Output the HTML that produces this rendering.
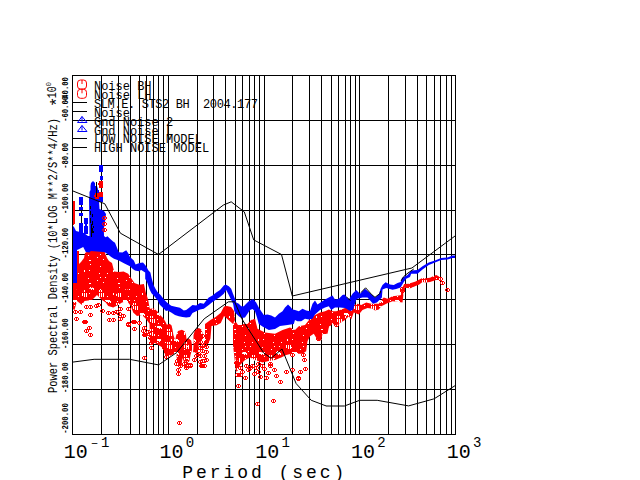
<!DOCTYPE html><html><head><meta charset="utf-8"><title>PSD</title><style>html,body{margin:0;padding:0;background:#fff;overflow:hidden}svg{display:block}</style></head><body>
<svg width="640" height="480" viewBox="0 0 640 480">
<rect width="640" height="480" fill="#fff"/>
<path d="M72 120.5H455M72 165.5H455M72 210.5H455M72 254.5H455M72 299.5H455M72 344.5H455M72 389.5H455M101.5 75V434M118.5 75V434M130.5 75V434M139.5 75V434M146.5 75V434M153.5 75V434M158.5 75V434M163.5 75V434M168.5 75V434M197.5 75V434M213.5 75V434M225.5 75V434M235.5 75V434M242.5 75V434M249.5 75V434M254.5 75V434M259.5 75V434M264.5 75V434M292.5 75V434M309.5 75V434M321.5 75V434M331.5 75V434M338.5 75V434M345.5 75V434M350.5 75V434M355.5 75V434M359.5 75V434M388.5 75V434M405.5 75V434M417.5 75V434M426.5 75V434M434.5 75V434M440.5 75V434M446.5 75V434M451.5 75V434" stroke="#000" stroke-width="1" fill="none" shape-rendering="crispEdges"/>
<rect x="72.5" y="75.5" width="383" height="359" stroke="#000" fill="none" shape-rendering="crispEdges"/>
<defs><clipPath id="pc"><rect x="73" y="76" width="382" height="358"/></clipPath><pattern id="spA" width="29" height="23" patternUnits="userSpaceOnUse"><path d="M10 4h1v1h-1zM12 20h1v1h-1zM1 2h1v1h-1zM26 17h1v1h-1zM3 11h1v1h-1zM18 1h1v1h-1zM16 6h1v1h-1zM1 2h1v1h-1zM13 13h1v1h-1zM2 7h1v1h-1zM2 17h1v1h-1zM13 1h1v1h-1zM26 18h1v1h-1zM3 7h1v1h-1zM20 20h1v1h-1zM18 1h1v1h-1z" fill="#fff" shape-rendering="crispEdges"/></pattern><pattern id="spB" width="17" height="13" patternUnits="userSpaceOnUse"><path d="M14 8h1v2h-1zM16 8h1v2h-1zM14 7h1v2h-1zM16 7h1v2h-1zM16 9h1v2h-1zM1 9h1v2h-1zM6 2h1v2h-1zM8 2h1v2h-1zM16 7h1v2h-1zM1 7h1v2h-1zM5 1h1v2h-1zM7 1h1v2h-1zM14 4h1v2h-1zM16 4h1v2h-1zM4 1h1v2h-1zM6 1h1v2h-1z" fill="#fff" shape-rendering="crispEdges"/></pattern></defs>
<g clip-path="url(#pc)">
<g fill="#ff0000">
<polygon points="72.0,283.0 77.0,283.0 77.0,251.0 79.0,251.0 79.0,264.0 81.0,262.0 84.0,258.0 85.0,253.0 90.0,250.0 102.0,251.0 104.5,250.0 105.0,253.0 107.0,258.0 109.0,261.0 112.0,263.0 114.2,271.4 118.9,272.0 123.6,271.4 128.2,273.8 131.4,278.4 134.5,283.0 139.2,284.7 143.9,284.0 145.8,292.5 148.2,300.0 149.5,307.5 150.0,308.8 150.0,340.0 149.5,323.8 145.8,318.8 142.0,315.0 137.0,316.0 133.2,312.5 130.8,306.0 127.0,301.0 122.0,302.5 118.2,305.0 113.2,307.5 108.2,306.0 105.8,302.5 102.0,300.0 97.0,295.0 92.0,300.0 84.5,301.0 82.0,305.0 77.0,301.0 74.5,310.0 72.0,308.8"/>
<polygon points="150.0,308.8 153.8,308.3 157.5,311.6 160.3,315.3 163.1,318.1 165.0,321.0 166.9,324.7 169.7,323.8 171.6,325.6 172.5,329.4 173.4,335.0 175.3,340.6 176.0,336.0 178.0,331.0 181.9,329.8 184.7,331.2 186.0,335.0 186.5,339.0 188.4,338.3 191.2,340.6 192.0,345.0 192.0,350.0 190.5,355.0 189.4,361.2 186.0,361.2 184.0,362.0 182.5,358.0 181.5,366.0 179.0,366.0 177.0,360.0 176.2,352.8 172.5,354.7 168.8,356.5 166.0,357.5 163.0,348.0 160.0,346.0 155.0,343.0 150.0,340.0"/>
<polygon points="193.5,335.0 195.0,330.0 198.8,328.0 201.5,329.4 202.5,333.0 202.0,340.0 199.0,343.0 197.8,352.8 193.0,352.8 193.5,345.0"/>
<polygon points="205.0,324.0 210.4,320.0 215.6,317.0 220.8,312.7 224.0,306.5 227.0,306.0 231.2,307.0 234.0,311.0 235.0,320.0 233.0,324.0 224.0,316.0 220.8,323.0 216.7,325.2 211.5,326.0 210.4,338.8 208.0,344.0 205.0,344.0"/>
<polygon points="233.0,324.0 236.0,322.0 238.0,325.0 241.7,325.0 243.8,324.0 247.5,324.0 251.0,320.0 255.0,318.8 257.5,328.8 265.0,332.5 275.0,333.8 282.5,330.0 290.0,327.5 295.0,330.0 298.8,326.2 305.0,325.0 310.0,318.8 315.0,315.0 320.0,312.5 325.0,311.2 328.8,309.4 332.5,311.2 336.2,311.2 340.0,310.0 345.0,308.0 348.8,307.5 353.8,305.0 357.5,303.8 361.2,305.0 366.2,302.5 371.2,303.8 378.8,303.8 382.5,298.8 383.8,297.5 387.5,298.8 392.5,296.2 398.8,295.6 401.0,295.0 401.2,290.0 404.2,284.0 408.3,283.8 412.5,282.5 415.6,281.5 419.3,279.4 422.4,278.0 426.0,278.3 430.0,277.8 432.5,276.5 436.2,275.0 439.0,276.5 439.0,280.0 436.0,280.0 430.0,282.0 426.0,282.5 422.4,282.0 419.3,284.6 415.6,286.1 410.4,288.2 404.2,287.7 402.5,302.5 398.8,301.9 392.5,301.2 386.2,303.8 384.0,305.0 381.2,306.2 378.8,309.4 375.0,310.6 372.5,308.8 367.5,308.0 362.5,310.0 358.8,314.4 353.8,312.5 351.2,319.4 348.8,316.2 345.0,320.0 338.8,323.8 336.2,325.6 332.5,323.8 328.8,327.5 327.5,333.8 322.5,333.8 321.2,340.6 317.5,340.0 313.8,333.8 310.0,336.2 307.5,341.2 306.2,351.2 302.5,353.8 298.8,353.8 291.2,353.8 286.2,355.0 281.2,357.5 275.0,360.0 268.8,361.0 262.5,362.5 255.0,360.0 250.0,357.5 245.0,360.0 240.0,365.0 237.0,372.0 235.6,370.0 234.4,357.5 233.0,345.0"/>
</g>
<g fill="url(#spA)">
<polygon points="72.0,283.0 77.0,283.0 77.0,251.0 79.0,251.0 79.0,264.0 81.0,262.0 84.0,258.0 85.0,253.0 90.0,250.0 102.0,251.0 104.5,250.0 105.0,253.0 107.0,258.0 109.0,261.0 112.0,263.0 114.2,271.4 118.9,272.0 123.6,271.4 128.2,273.8 131.4,278.4 134.5,283.0 139.2,284.7 143.9,284.0 145.8,292.5 148.2,300.0 149.5,307.5 150.0,308.8 150.0,340.0 149.5,323.8 145.8,318.8 142.0,315.0 137.0,316.0 133.2,312.5 130.8,306.0 127.0,301.0 122.0,302.5 118.2,305.0 113.2,307.5 108.2,306.0 105.8,302.5 102.0,300.0 97.0,295.0 92.0,300.0 84.5,301.0 82.0,305.0 77.0,301.0 74.5,310.0 72.0,308.8"/>
<polygon points="150.0,308.8 153.8,308.3 157.5,311.6 160.3,315.3 163.1,318.1 165.0,321.0 166.9,324.7 169.7,323.8 171.6,325.6 172.5,329.4 173.4,335.0 175.3,340.6 176.0,336.0 178.0,331.0 181.9,329.8 184.7,331.2 186.0,335.0 186.5,339.0 188.4,338.3 191.2,340.6 192.0,345.0 192.0,350.0 190.5,355.0 189.4,361.2 186.0,361.2 184.0,362.0 182.5,358.0 181.5,366.0 179.0,366.0 177.0,360.0 176.2,352.8 172.5,354.7 168.8,356.5 166.0,357.5 163.0,348.0 160.0,346.0 155.0,343.0 150.0,340.0"/>
<polygon points="193.5,335.0 195.0,330.0 198.8,328.0 201.5,329.4 202.5,333.0 202.0,340.0 199.0,343.0 197.8,352.8 193.0,352.8 193.5,345.0"/>
<polygon points="205.0,324.0 210.4,320.0 215.6,317.0 220.8,312.7 224.0,306.5 227.0,306.0 231.2,307.0 234.0,311.0 235.0,320.0 233.0,324.0 224.0,316.0 220.8,323.0 216.7,325.2 211.5,326.0 210.4,338.8 208.0,344.0 205.0,344.0"/>
<polygon points="233.0,324.0 236.0,322.0 238.0,325.0 241.7,325.0 243.8,324.0 247.5,324.0 251.0,320.0 255.0,318.8 257.5,328.8 265.0,332.5 275.0,333.8 282.5,330.0 290.0,327.5 295.0,330.0 298.8,326.2 305.0,325.0 310.0,318.8 315.0,315.0 320.0,312.5 325.0,311.2 328.8,309.4 332.5,311.2 336.2,311.2 340.0,310.0 345.0,308.0 348.8,307.5 353.8,305.0 357.5,303.8 361.2,305.0 366.2,302.5 371.2,303.8 378.8,303.8 382.5,298.8 383.8,297.5 387.5,298.8 392.5,296.2 398.8,295.6 401.0,295.0 401.2,290.0 404.2,284.0 408.3,283.8 412.5,282.5 415.6,281.5 419.3,279.4 422.4,278.0 426.0,278.3 430.0,277.8 432.5,276.5 436.2,275.0 439.0,276.5 439.0,280.0 436.0,280.0 430.0,282.0 426.0,282.5 422.4,282.0 419.3,284.6 415.6,286.1 410.4,288.2 404.2,287.7 402.5,302.5 398.8,301.9 392.5,301.2 386.2,303.8 384.0,305.0 381.2,306.2 378.8,309.4 375.0,310.6 372.5,308.8 367.5,308.0 362.5,310.0 358.8,314.4 353.8,312.5 351.2,319.4 348.8,316.2 345.0,320.0 338.8,323.8 336.2,325.6 332.5,323.8 328.8,327.5 327.5,333.8 322.5,333.8 321.2,340.6 317.5,340.0 313.8,333.8 310.0,336.2 307.5,341.2 306.2,351.2 302.5,353.8 298.8,353.8 291.2,353.8 286.2,355.0 281.2,357.5 275.0,360.0 268.8,361.0 262.5,362.5 255.0,360.0 250.0,357.5 245.0,360.0 240.0,365.0 237.0,372.0 235.6,370.0 234.4,357.5 233.0,345.0"/>
</g>
<g fill="url(#spB)">
<polygon points="72.0,296.8 74.5,298.0 77.0,289.0 82.0,293.0 84.5,289.0 92.0,288.0 97.0,283.0 102.0,288.0 105.8,290.5 108.2,294.0 113.2,295.5 118.2,293.0 122.0,290.5 127.0,289.0 130.8,294.0 133.2,300.5 137.0,304.0 142.0,303.0 145.8,306.8 149.5,311.8 149.5,324.8 145.8,319.8 142.0,316.0 137.0,317.0 133.2,313.5 130.8,307.0 127.0,302.0 122.0,303.5 118.2,306.0 113.2,308.5 108.2,307.0 105.8,303.5 102.0,301.0 97.0,296.0 92.0,301.0 84.5,302.0 82.0,306.0 77.0,302.0 74.5,311.0 72.0,309.8"/>
<polygon points="233.0,335.0 234.4,347.5 235.6,360.0 237.0,362.0 240.0,355.0 245.0,350.0 250.0,347.5 255.0,350.0 262.5,352.5 268.8,351.0 275.0,350.0 281.2,347.5 286.2,345.0 291.2,343.8 298.8,343.8 302.5,343.8 302.5,354.8 298.8,354.8 291.2,354.8 286.2,356.0 281.2,358.5 275.0,361.0 268.8,362.0 262.5,363.5 255.0,361.0 250.0,358.5 245.0,361.0 240.0,366.0 237.0,373.0 235.6,371.0 234.4,358.5 233.0,346.0"/>
<polygon points="150.0,308.8 153.8,308.3 157.5,311.6 160.3,315.3 163.1,318.1 165.0,321.0 166.9,324.7 169.7,323.8 171.6,325.6 172.5,329.4 173.4,335.0 175.3,340.6 176.0,336.0 178.0,331.0 181.9,329.8 184.7,331.2 186.0,335.0 186.5,339.0 188.4,338.3 191.2,340.6 192.0,345.0 192.0,350.0 190.5,355.0 189.4,361.2 186.0,361.2 184.0,362.0 182.5,358.0 181.5,366.0 179.0,366.0 177.0,360.0 176.2,352.8 172.5,354.7 168.8,356.5 166.0,357.5 163.0,348.0 160.0,346.0 155.0,343.0 150.0,340.0"/>
<polygon points="193.5,335.0 195.0,330.0 198.8,328.0 201.5,329.4 202.5,333.0 202.0,340.0 199.0,343.0 197.8,352.8 193.0,352.8 193.5,345.0"/>
<polygon points="332.5,311.2 336.2,311.2 340.0,310.0 345.0,308.0 348.8,307.5 353.8,305.0 357.5,303.8 361.2,305.0 366.2,302.5 371.2,303.8 378.8,303.8 382.5,298.8 383.8,297.5 387.5,298.8 392.5,296.2 398.8,295.6 401.0,295.0 401.2,290.0 404.2,284.0 408.3,283.8 412.5,282.5 415.6,281.5 419.3,279.4 422.4,278.0 426.0,278.3 430.0,277.8 432.5,276.5 436.2,275.0 439.0,276.5 439.0,280.0 436.0,280.0 430.0,282.0 426.0,282.5 422.4,282.0 419.3,284.6 415.6,286.1 410.4,288.2 404.2,287.7 402.5,302.5 398.8,301.9 392.5,301.2 386.2,303.8 384.0,305.0 381.2,306.2 378.8,309.4 375.0,310.6 372.5,308.8 367.5,308.0 362.5,310.0 358.8,314.4 353.8,312.5 351.2,319.4 348.8,316.2 345.0,320.0 338.8,323.8 336.2,325.6 332.5,323.8"/>
</g>
<path d="M74 310h3v1h-3zM74 313h3v1h-3zM73 311h1v2h-1zM75 311h1v2h-1zM77 311h1v2h-1z" fill="#ff0000" shape-rendering="crispEdges"/>
<path d="M75 317h3v1h-3zM75 320h3v1h-3zM74 318h1v2h-1zM76 318h1v2h-1zM78 318h1v2h-1z" fill="#ff0000" shape-rendering="crispEdges"/>
<path d="M85 305h3v1h-3zM85 308h3v1h-3zM84 306h1v2h-1zM86 306h1v2h-1zM88 306h1v2h-1z" fill="#ff0000" shape-rendering="crispEdges"/>
<path d="M89 305h3v1h-3zM89 308h3v1h-3zM88 306h1v2h-1zM90 306h1v2h-1zM92 306h1v2h-1z" fill="#ff0000" shape-rendering="crispEdges"/>
<path d="M89 313h3v1h-3zM89 316h3v1h-3zM88 314h1v2h-1zM90 314h1v2h-1zM92 314h1v2h-1z" fill="#ff0000" shape-rendering="crispEdges"/>
<path d="M83 320h3v1h-3zM83 323h3v1h-3zM82 321h1v2h-1zM84 321h1v2h-1zM86 321h1v2h-1z" fill="#ff0000" shape-rendering="crispEdges"/>
<path d="M88 326h3v1h-3zM88 329h3v1h-3zM87 327h1v2h-1zM89 327h1v2h-1zM91 327h1v2h-1z" fill="#ff0000" shape-rendering="crispEdges"/>
<path d="M85 329h3v1h-3zM85 332h3v1h-3zM84 330h1v2h-1zM86 330h1v2h-1zM88 330h1v2h-1z" fill="#ff0000" shape-rendering="crispEdges"/>
<path d="M89 333h3v1h-3zM89 336h3v1h-3zM88 334h1v2h-1zM90 334h1v2h-1zM92 334h1v2h-1z" fill="#ff0000" shape-rendering="crispEdges"/>
<path d="M101 309h3v1h-3zM101 312h3v1h-3zM100 310h1v2h-1zM102 310h1v2h-1zM104 310h1v2h-1z" fill="#ff0000" shape-rendering="crispEdges"/>
<path d="M107 311h3v1h-3zM107 314h3v1h-3zM106 312h1v2h-1zM108 312h1v2h-1zM110 312h1v2h-1z" fill="#ff0000" shape-rendering="crispEdges"/>
<path d="M112 311h3v1h-3zM112 314h3v1h-3zM111 312h1v2h-1zM113 312h1v2h-1zM115 312h1v2h-1z" fill="#ff0000" shape-rendering="crispEdges"/>
<path d="M115 310h3v1h-3zM115 313h3v1h-3zM114 311h1v2h-1zM116 311h1v2h-1zM118 311h1v2h-1z" fill="#ff0000" shape-rendering="crispEdges"/>
<path d="M108 318h3v1h-3zM108 321h3v1h-3zM107 319h1v2h-1zM109 319h1v2h-1zM111 319h1v2h-1z" fill="#ff0000" shape-rendering="crispEdges"/>
<path d="M112 318h3v1h-3zM112 321h3v1h-3zM111 319h1v2h-1zM113 319h1v2h-1zM115 319h1v2h-1z" fill="#ff0000" shape-rendering="crispEdges"/>
<path d="M119 307h3v1h-3zM119 310h3v1h-3zM118 308h1v2h-1zM120 308h1v2h-1zM122 308h1v2h-1z" fill="#ff0000" shape-rendering="crispEdges"/>
<path d="M118 312h3v1h-3zM118 315h3v1h-3zM117 313h1v2h-1zM119 313h1v2h-1zM121 313h1v2h-1z" fill="#ff0000" shape-rendering="crispEdges"/>
<path d="M122 314h3v1h-3zM122 317h3v1h-3zM121 315h1v2h-1zM123 315h1v2h-1zM125 315h1v2h-1z" fill="#ff0000" shape-rendering="crispEdges"/>
<path d="M119 317h3v1h-3zM119 320h3v1h-3zM118 318h1v2h-1zM120 318h1v2h-1zM122 318h1v2h-1z" fill="#ff0000" shape-rendering="crispEdges"/>
<path d="M127 307h3v1h-3zM127 310h3v1h-3zM126 308h1v2h-1zM128 308h1v2h-1zM130 308h1v2h-1z" fill="#ff0000" shape-rendering="crispEdges"/>
<path d="M127 322h3v1h-3zM127 325h3v1h-3zM126 323h1v2h-1zM128 323h1v2h-1zM130 323h1v2h-1z" fill="#ff0000" shape-rendering="crispEdges"/>
<path d="M132 320h3v1h-3zM132 323h3v1h-3zM131 321h1v2h-1zM133 321h1v2h-1zM135 321h1v2h-1z" fill="#ff0000" shape-rendering="crispEdges"/>
<path d="M138 321h3v1h-3zM138 324h3v1h-3zM137 322h1v2h-1zM139 322h1v2h-1zM141 322h1v2h-1z" fill="#ff0000" shape-rendering="crispEdges"/>
<path d="M133 327h3v1h-3zM133 330h3v1h-3zM132 328h1v2h-1zM134 328h1v2h-1zM136 328h1v2h-1z" fill="#ff0000" shape-rendering="crispEdges"/>
<path d="M143 326h3v1h-3zM143 329h3v1h-3zM142 327h1v2h-1zM144 327h1v2h-1zM146 327h1v2h-1z" fill="#ff0000" shape-rendering="crispEdges"/>
<path d="M142 329h3v1h-3zM142 332h3v1h-3zM141 330h1v2h-1zM143 330h1v2h-1zM145 330h1v2h-1z" fill="#ff0000" shape-rendering="crispEdges"/>
<path d="M144 333h3v1h-3zM144 336h3v1h-3zM143 334h1v2h-1zM145 334h1v2h-1zM147 334h1v2h-1z" fill="#ff0000" shape-rendering="crispEdges"/>
<path d="M148 332h3v1h-3zM148 335h3v1h-3zM147 333h1v2h-1zM149 333h1v2h-1zM151 333h1v2h-1z" fill="#ff0000" shape-rendering="crispEdges"/>
<path d="M149 336h3v1h-3zM149 339h3v1h-3zM148 337h1v2h-1zM150 337h1v2h-1zM152 337h1v2h-1z" fill="#ff0000" shape-rendering="crispEdges"/>
<path d="M150 337h3v1h-3zM150 340h3v1h-3zM149 338h1v2h-1zM151 338h1v2h-1zM153 338h1v2h-1z" fill="#ff0000" shape-rendering="crispEdges"/>
<path d="M150 341h3v1h-3zM150 344h3v1h-3zM149 342h1v2h-1zM151 342h1v2h-1zM153 342h1v2h-1z" fill="#ff0000" shape-rendering="crispEdges"/>
<path d="M150 346h3v1h-3zM150 349h3v1h-3zM149 347h1v2h-1zM151 347h1v2h-1zM153 347h1v2h-1z" fill="#ff0000" shape-rendering="crispEdges"/>
<path d="M143 356h3v1h-3zM143 359h3v1h-3zM142 357h1v2h-1zM144 357h1v2h-1zM146 357h1v2h-1z" fill="#ff0000" shape-rendering="crispEdges"/>
<path d="M155 330h3v1h-3zM155 333h3v1h-3zM154 331h1v2h-1zM156 331h1v2h-1zM158 331h1v2h-1z" fill="#ff0000" shape-rendering="crispEdges"/>
<path d="M163 346h3v1h-3zM163 349h3v1h-3zM162 347h1v2h-1zM164 347h1v2h-1zM166 347h1v2h-1z" fill="#ff0000" shape-rendering="crispEdges"/>
<path d="M165 350h3v1h-3zM165 353h3v1h-3zM164 351h1v2h-1zM166 351h1v2h-1zM168 351h1v2h-1z" fill="#ff0000" shape-rendering="crispEdges"/>
<path d="M165 355h3v1h-3zM165 358h3v1h-3zM164 356h1v2h-1zM166 356h1v2h-1zM168 356h1v2h-1z" fill="#ff0000" shape-rendering="crispEdges"/>
<path d="M169 349h3v1h-3zM169 352h3v1h-3zM168 350h1v2h-1zM170 350h1v2h-1zM172 350h1v2h-1z" fill="#ff0000" shape-rendering="crispEdges"/>
<path d="M161 334h3v1h-3zM161 337h3v1h-3zM160 335h1v2h-1zM162 335h1v2h-1zM164 335h1v2h-1z" fill="#ff0000" shape-rendering="crispEdges"/>
<path d="M162 339h3v1h-3zM162 342h3v1h-3zM161 340h1v2h-1zM163 340h1v2h-1zM165 340h1v2h-1z" fill="#ff0000" shape-rendering="crispEdges"/>
<path d="M154 330h3v1h-3zM154 333h3v1h-3zM153 331h1v2h-1zM155 331h1v2h-1zM157 331h1v2h-1z" fill="#ff0000" shape-rendering="crispEdges"/>
<path d="M147 330h3v1h-3zM147 333h3v1h-3zM146 331h1v2h-1zM148 331h1v2h-1zM150 331h1v2h-1z" fill="#ff0000" shape-rendering="crispEdges"/>
<path d="M151 340h3v1h-3zM151 343h3v1h-3zM150 341h1v2h-1zM152 341h1v2h-1zM154 341h1v2h-1z" fill="#ff0000" shape-rendering="crispEdges"/>
<path d="M143 333h3v1h-3zM143 336h3v1h-3zM142 334h1v2h-1zM144 334h1v2h-1zM146 334h1v2h-1z" fill="#ff0000" shape-rendering="crispEdges"/>
<path d="M127 323h3v1h-3zM127 326h3v1h-3zM126 324h1v2h-1zM128 324h1v2h-1zM130 324h1v2h-1z" fill="#ff0000" shape-rendering="crispEdges"/>
<path d="M133 320h3v1h-3zM133 323h3v1h-3zM132 321h1v2h-1zM134 321h1v2h-1zM136 321h1v2h-1z" fill="#ff0000" shape-rendering="crispEdges"/>
<path d="M133 327h3v1h-3zM133 330h3v1h-3zM132 328h1v2h-1zM134 328h1v2h-1zM136 328h1v2h-1z" fill="#ff0000" shape-rendering="crispEdges"/>
<path d="M84 320h3v1h-3zM84 323h3v1h-3zM83 321h1v2h-1zM85 321h1v2h-1zM87 321h1v2h-1z" fill="#ff0000" shape-rendering="crispEdges"/>
<path d="M79 310h3v1h-3zM79 313h3v1h-3zM78 311h1v2h-1zM80 311h1v2h-1zM82 311h1v2h-1z" fill="#ff0000" shape-rendering="crispEdges"/>
<path d="M95 304h3v1h-3zM95 307h3v1h-3zM94 305h1v2h-1zM96 305h1v2h-1zM98 305h1v2h-1z" fill="#ff0000" shape-rendering="crispEdges"/>
<path d="M97 303h3v1h-3zM97 306h3v1h-3zM96 304h1v2h-1zM98 304h1v2h-1zM100 304h1v2h-1z" fill="#ff0000" shape-rendering="crispEdges"/>
<path d="M177 372h3v1h-3zM177 375h3v1h-3zM176 373h1v2h-1zM178 373h1v2h-1zM180 373h1v2h-1z" fill="#ff0000" shape-rendering="crispEdges"/>
<path d="M177 368h3v1h-3zM177 371h3v1h-3zM176 369h1v2h-1zM178 369h1v2h-1zM180 369h1v2h-1z" fill="#ff0000" shape-rendering="crispEdges"/>
<path d="M179 364h3v1h-3zM179 367h3v1h-3zM178 365h1v2h-1zM180 365h1v2h-1zM182 365h1v2h-1z" fill="#ff0000" shape-rendering="crispEdges"/>
<path d="M175 362h3v1h-3zM175 365h3v1h-3zM174 363h1v2h-1zM176 363h1v2h-1zM178 363h1v2h-1z" fill="#ff0000" shape-rendering="crispEdges"/>
<path d="M183 362h3v1h-3zM183 365h3v1h-3zM182 363h1v2h-1zM184 363h1v2h-1zM186 363h1v2h-1z" fill="#ff0000" shape-rendering="crispEdges"/>
<path d="M187 363h3v1h-3zM187 366h3v1h-3zM186 364h1v2h-1zM188 364h1v2h-1zM190 364h1v2h-1z" fill="#ff0000" shape-rendering="crispEdges"/>
<path d="M189 364h3v1h-3zM189 367h3v1h-3zM188 365h1v2h-1zM190 365h1v2h-1zM192 365h1v2h-1z" fill="#ff0000" shape-rendering="crispEdges"/>
<path d="M185 366h3v1h-3zM185 369h3v1h-3zM184 367h1v2h-1zM186 367h1v2h-1zM188 367h1v2h-1z" fill="#ff0000" shape-rendering="crispEdges"/>
<path d="M195 354h3v1h-3zM195 357h3v1h-3zM194 355h1v2h-1zM196 355h1v2h-1zM198 355h1v2h-1z" fill="#ff0000" shape-rendering="crispEdges"/>
<path d="M193 358h3v1h-3zM193 361h3v1h-3zM192 359h1v2h-1zM194 359h1v2h-1zM196 359h1v2h-1z" fill="#ff0000" shape-rendering="crispEdges"/>
<path d="M195 347h3v1h-3zM195 350h3v1h-3zM194 348h1v2h-1zM196 348h1v2h-1zM198 348h1v2h-1z" fill="#ff0000" shape-rendering="crispEdges"/>
<path d="M199 336h3v1h-3zM199 339h3v1h-3zM198 337h1v2h-1zM200 337h1v2h-1zM202 337h1v2h-1z" fill="#ff0000" shape-rendering="crispEdges"/>
<path d="M201 334h3v1h-3zM201 337h3v1h-3zM200 335h1v2h-1zM202 335h1v2h-1zM204 335h1v2h-1z" fill="#ff0000" shape-rendering="crispEdges"/>
<path d="M199 340h3v1h-3zM199 343h3v1h-3zM198 341h1v2h-1zM200 341h1v2h-1zM202 341h1v2h-1z" fill="#ff0000" shape-rendering="crispEdges"/>
<path d="M203 343h3v1h-3zM203 346h3v1h-3zM202 344h1v2h-1zM204 344h1v2h-1zM206 344h1v2h-1z" fill="#ff0000" shape-rendering="crispEdges"/>
<path d="M199 346h3v1h-3zM199 349h3v1h-3zM198 347h1v2h-1zM200 347h1v2h-1zM202 347h1v2h-1z" fill="#ff0000" shape-rendering="crispEdges"/>
<path d="M201 349h3v1h-3zM201 352h3v1h-3zM200 350h1v2h-1zM202 350h1v2h-1zM204 350h1v2h-1z" fill="#ff0000" shape-rendering="crispEdges"/>
<path d="M203 354h3v1h-3zM203 357h3v1h-3zM202 355h1v2h-1zM204 355h1v2h-1zM206 355h1v2h-1z" fill="#ff0000" shape-rendering="crispEdges"/>
<path d="M199 354h3v1h-3zM199 357h3v1h-3zM198 355h1v2h-1zM200 355h1v2h-1zM202 355h1v2h-1z" fill="#ff0000" shape-rendering="crispEdges"/>
<path d="M203 359h3v1h-3zM203 362h3v1h-3zM202 360h1v2h-1zM204 360h1v2h-1zM206 360h1v2h-1z" fill="#ff0000" shape-rendering="crispEdges"/>
<path d="M199 360h3v1h-3zM199 363h3v1h-3zM198 361h1v2h-1zM200 361h1v2h-1zM202 361h1v2h-1z" fill="#ff0000" shape-rendering="crispEdges"/>
<path d="M203 364h3v1h-3zM203 367h3v1h-3zM202 365h1v2h-1zM204 365h1v2h-1zM206 365h1v2h-1z" fill="#ff0000" shape-rendering="crispEdges"/>
<path d="M201 364h3v1h-3zM201 367h3v1h-3zM200 365h1v2h-1zM202 365h1v2h-1zM204 365h1v2h-1z" fill="#ff0000" shape-rendering="crispEdges"/>
<path d="M205 350h3v1h-3zM205 353h3v1h-3zM204 351h1v2h-1zM206 351h1v2h-1zM208 351h1v2h-1z" fill="#ff0000" shape-rendering="crispEdges"/>
<path d="M205 340h3v1h-3zM205 343h3v1h-3zM204 341h1v2h-1zM206 341h1v2h-1zM208 341h1v2h-1z" fill="#ff0000" shape-rendering="crispEdges"/>
<path d="M205 345h3v1h-3zM205 348h3v1h-3zM204 346h1v2h-1zM206 346h1v2h-1zM208 346h1v2h-1z" fill="#ff0000" shape-rendering="crispEdges"/>
<path d="M197 352h3v1h-3zM197 355h3v1h-3zM196 353h1v2h-1zM198 353h1v2h-1zM200 353h1v2h-1z" fill="#ff0000" shape-rendering="crispEdges"/>
<path d="M201 344h3v1h-3zM201 347h3v1h-3zM200 345h1v2h-1zM202 345h1v2h-1zM204 345h1v2h-1z" fill="#ff0000" shape-rendering="crispEdges"/>
<path d="M205 358h3v1h-3zM205 361h3v1h-3zM204 359h1v2h-1zM206 359h1v2h-1zM208 359h1v2h-1z" fill="#ff0000" shape-rendering="crispEdges"/>
<path d="M178 421h3v1h-3zM178 424h3v1h-3zM177 422h1v2h-1zM179 422h1v2h-1zM181 422h1v2h-1z" fill="#ff0000" shape-rendering="crispEdges"/>
<path d="M176 359h3v1h-3zM176 362h3v1h-3zM175 360h1v2h-1zM177 360h1v2h-1zM179 360h1v2h-1z" fill="#ff0000" shape-rendering="crispEdges"/>
<path d="M185 359h3v1h-3zM185 362h3v1h-3zM184 360h1v2h-1zM186 360h1v2h-1zM188 360h1v2h-1z" fill="#ff0000" shape-rendering="crispEdges"/>
<path d="M185 364h3v1h-3zM185 367h3v1h-3zM184 365h1v2h-1zM186 365h1v2h-1zM188 365h1v2h-1z" fill="#ff0000" shape-rendering="crispEdges"/>
<path d="M189 363h3v1h-3zM189 366h3v1h-3zM188 364h1v2h-1zM190 364h1v2h-1zM192 364h1v2h-1z" fill="#ff0000" shape-rendering="crispEdges"/>
<path d="M201 359h3v1h-3zM201 362h3v1h-3zM200 360h1v2h-1zM202 360h1v2h-1zM204 360h1v2h-1z" fill="#ff0000" shape-rendering="crispEdges"/>
<path d="M200 364h3v1h-3zM200 367h3v1h-3zM199 365h1v2h-1zM201 365h1v2h-1zM203 365h1v2h-1z" fill="#ff0000" shape-rendering="crispEdges"/>
<path d="M235 361h3v1h-3zM235 364h3v1h-3zM234 362h1v2h-1zM236 362h1v2h-1zM238 362h1v2h-1z" fill="#ff0000" shape-rendering="crispEdges"/>
<path d="M239 366h3v1h-3zM239 369h3v1h-3zM238 367h1v2h-1zM240 367h1v2h-1zM242 367h1v2h-1z" fill="#ff0000" shape-rendering="crispEdges"/>
<path d="M236 373h3v1h-3zM236 376h3v1h-3zM235 374h1v2h-1zM237 374h1v2h-1zM239 374h1v2h-1z" fill="#ff0000" shape-rendering="crispEdges"/>
<path d="M237 384h3v1h-3zM237 387h3v1h-3zM236 385h1v2h-1zM238 385h1v2h-1zM240 385h1v2h-1z" fill="#ff0000" shape-rendering="crispEdges"/>
<path d="M237 384h3v1h-3zM237 387h3v1h-3zM236 385h1v2h-1zM238 385h1v2h-1zM240 385h1v2h-1z" fill="#ff0000" shape-rendering="crispEdges"/>
<path d="M244 376h3v1h-3zM244 379h3v1h-3zM243 377h1v2h-1zM245 377h1v2h-1zM247 377h1v2h-1z" fill="#ff0000" shape-rendering="crispEdges"/>
<path d="M247 368h3v1h-3zM247 371h3v1h-3zM246 369h1v2h-1zM248 369h1v2h-1zM250 369h1v2h-1z" fill="#ff0000" shape-rendering="crispEdges"/>
<path d="M279 380h3v1h-3zM279 383h3v1h-3zM278 381h1v2h-1zM280 381h1v2h-1zM282 381h1v2h-1z" fill="#ff0000" shape-rendering="crispEdges"/>
<path d="M285 370h3v1h-3zM285 373h3v1h-3zM284 371h1v2h-1zM286 371h1v2h-1zM288 371h1v2h-1z" fill="#ff0000" shape-rendering="crispEdges"/>
<path d="M291 368h3v1h-3zM291 371h3v1h-3zM290 369h1v2h-1zM292 369h1v2h-1zM294 369h1v2h-1z" fill="#ff0000" shape-rendering="crispEdges"/>
<path d="M297 376h3v1h-3zM297 379h3v1h-3zM296 377h1v2h-1zM298 377h1v2h-1zM300 377h1v2h-1z" fill="#ff0000" shape-rendering="crispEdges"/>
<path d="M304 367h3v1h-3zM304 370h3v1h-3zM303 368h1v2h-1zM305 368h1v2h-1zM307 368h1v2h-1z" fill="#ff0000" shape-rendering="crispEdges"/>
<path d="M256 402h3v1h-3zM256 405h3v1h-3zM255 403h1v2h-1zM257 403h1v2h-1zM259 403h1v2h-1z" fill="#ff0000" shape-rendering="crispEdges"/>
<path d="M272 399h3v1h-3zM272 402h3v1h-3zM271 400h1v2h-1zM273 400h1v2h-1zM275 400h1v2h-1z" fill="#ff0000" shape-rendering="crispEdges"/>
<path d="M302 353h3v1h-3zM302 356h3v1h-3zM301 354h1v2h-1zM303 354h1v2h-1zM305 354h1v2h-1z" fill="#ff0000" shape-rendering="crispEdges"/>
<path d="M291 353h3v1h-3zM291 356h3v1h-3zM290 354h1v2h-1zM292 354h1v2h-1zM294 354h1v2h-1z" fill="#ff0000" shape-rendering="crispEdges"/>
<path d="M239 373h3v1h-3zM239 376h3v1h-3zM238 374h1v2h-1zM240 374h1v2h-1zM242 374h1v2h-1z" fill="#ff0000" shape-rendering="crispEdges"/>
<path d="M241 370h3v1h-3zM241 373h3v1h-3zM240 371h1v2h-1zM242 371h1v2h-1zM244 371h1v2h-1z" fill="#ff0000" shape-rendering="crispEdges"/>
<path d="M245 364h3v1h-3zM245 367h3v1h-3zM244 365h1v2h-1zM246 365h1v2h-1zM248 365h1v2h-1z" fill="#ff0000" shape-rendering="crispEdges"/>
<path d="M249 366h3v1h-3zM249 369h3v1h-3zM248 367h1v2h-1zM250 367h1v2h-1zM252 367h1v2h-1z" fill="#ff0000" shape-rendering="crispEdges"/>
<path d="M251 364h3v1h-3zM251 367h3v1h-3zM250 365h1v2h-1zM252 365h1v2h-1zM254 365h1v2h-1z" fill="#ff0000" shape-rendering="crispEdges"/>
<path d="M255 366h3v1h-3zM255 369h3v1h-3zM254 367h1v2h-1zM256 367h1v2h-1zM258 367h1v2h-1z" fill="#ff0000" shape-rendering="crispEdges"/>
<path d="M257 370h3v1h-3zM257 373h3v1h-3zM256 371h1v2h-1zM258 371h1v2h-1zM260 371h1v2h-1z" fill="#ff0000" shape-rendering="crispEdges"/>
<path d="M261 364h3v1h-3zM261 367h3v1h-3zM260 365h1v2h-1zM262 365h1v2h-1zM264 365h1v2h-1z" fill="#ff0000" shape-rendering="crispEdges"/>
<path d="M263 367h3v1h-3zM263 370h3v1h-3zM262 368h1v2h-1zM264 368h1v2h-1zM266 368h1v2h-1z" fill="#ff0000" shape-rendering="crispEdges"/>
<path d="M267 371h3v1h-3zM267 374h3v1h-3zM266 372h1v2h-1zM268 372h1v2h-1zM270 372h1v2h-1z" fill="#ff0000" shape-rendering="crispEdges"/>
<path d="M269 364h3v1h-3zM269 367h3v1h-3zM268 365h1v2h-1zM270 365h1v2h-1zM272 365h1v2h-1z" fill="#ff0000" shape-rendering="crispEdges"/>
<path d="M273 368h3v1h-3zM273 371h3v1h-3zM272 369h1v2h-1zM274 369h1v2h-1zM276 369h1v2h-1z" fill="#ff0000" shape-rendering="crispEdges"/>
<path d="M275 374h3v1h-3zM275 377h3v1h-3zM274 375h1v2h-1zM276 375h1v2h-1zM278 375h1v2h-1z" fill="#ff0000" shape-rendering="crispEdges"/>
<path d="M259 375h3v1h-3zM259 378h3v1h-3zM258 376h1v2h-1zM260 376h1v2h-1zM262 376h1v2h-1z" fill="#ff0000" shape-rendering="crispEdges"/>
<path d="M253 372h3v1h-3zM253 375h3v1h-3zM252 373h1v2h-1zM254 373h1v2h-1zM256 373h1v2h-1z" fill="#ff0000" shape-rendering="crispEdges"/>
<path d="M265 376h3v1h-3zM265 379h3v1h-3zM264 377h1v2h-1zM266 377h1v2h-1zM268 377h1v2h-1z" fill="#ff0000" shape-rendering="crispEdges"/>
<path d="M257 362h3v1h-3zM257 365h3v1h-3zM256 363h1v2h-1zM258 363h1v2h-1zM260 363h1v2h-1z" fill="#ff0000" shape-rendering="crispEdges"/>
<path d="M269 362h3v1h-3zM269 365h3v1h-3zM268 363h1v2h-1zM270 363h1v2h-1zM272 363h1v2h-1z" fill="#ff0000" shape-rendering="crispEdges"/>
<path d="M304 367h3v1h-3zM304 370h3v1h-3zM303 368h1v2h-1zM305 368h1v2h-1zM307 368h1v2h-1z" fill="#ff0000" shape-rendering="crispEdges"/>
<path d="M297 377h3v1h-3zM297 380h3v1h-3zM296 378h1v2h-1zM298 378h1v2h-1zM300 378h1v2h-1z" fill="#ff0000" shape-rendering="crispEdges"/>
<path d="M299 370h3v1h-3zM299 373h3v1h-3zM298 371h1v2h-1zM300 371h1v2h-1zM302 371h1v2h-1z" fill="#ff0000" shape-rendering="crispEdges"/>
<path d="M317 337h3v1h-3zM317 340h3v1h-3zM316 338h1v2h-1zM318 338h1v2h-1zM320 338h1v2h-1z" fill="#ff0000" shape-rendering="crispEdges"/>
<path d="M323 330h3v1h-3zM323 333h3v1h-3zM322 331h1v2h-1zM324 331h1v2h-1zM326 331h1v2h-1z" fill="#ff0000" shape-rendering="crispEdges"/>
<path d="M335 323h3v1h-3zM335 326h3v1h-3zM334 324h1v2h-1zM336 324h1v2h-1zM338 324h1v2h-1z" fill="#ff0000" shape-rendering="crispEdges"/>
<path d="M303 358h3v1h-3zM303 361h3v1h-3zM302 359h1v2h-1zM304 359h1v2h-1zM306 359h1v2h-1z" fill="#ff0000" shape-rendering="crispEdges"/>
<path d="M401 289h3v1h-3zM401 292h3v1h-3zM400 290h1v2h-1zM402 290h1v2h-1zM404 290h1v2h-1z" fill="#ff0000" shape-rendering="crispEdges"/>
<path d="M401 287h3v1h-3zM401 290h3v1h-3zM400 288h1v2h-1zM402 288h1v2h-1zM404 288h1v2h-1z" fill="#ff0000" shape-rendering="crispEdges"/>
<path d="M439 277h3v1h-3zM439 280h3v1h-3zM438 278h1v2h-1zM440 278h1v2h-1zM442 278h1v2h-1z" fill="#ff0000" shape-rendering="crispEdges"/>
<path d="M441 281h3v1h-3zM441 284h3v1h-3zM440 282h1v2h-1zM442 282h1v2h-1zM444 282h1v2h-1z" fill="#ff0000" shape-rendering="crispEdges"/>
<path d="M446 288h3v1h-3zM446 291h3v1h-3zM445 289h1v2h-1zM447 289h1v2h-1zM449 289h1v2h-1z" fill="#ff0000" shape-rendering="crispEdges"/>
<polygon points="72.0,225.0 74.0,227.0 76.0,231.0 80.0,232.0 84.0,233.0 88.0,236.0 89.5,236.0 89.0,197.0 102.5,197.0 102.5,200.5 99.0,201.5 99.5,209.0 104.0,211.0 106.0,214.0 104.5,226.0 103.8,228.0 104.0,236.0 105.6,237.2 107.5,236.2 110.3,239.0 113.1,241.4 115.0,242.8 116.9,247.5 118.8,252.2 122.5,252.6 126.2,250.3 128.1,253.1 130.0,256.9 133.8,260.6 135.6,264.4 139.4,263.0 143.0,262.5 146.2,266.2 148.3,270.3 150.4,272.4 151.5,277.6 153.5,284.9 155.6,289.0 157.7,292.2 160.8,295.3 164.0,299.5 167.0,302.6 171.2,305.8 175.4,306.8 180.0,307.8 183.8,310.6 186.2,310.0 188.8,308.0 192.5,305.0 196.2,305.6 200.0,303.0 203.8,303.8 206.2,300.6 208.8,297.5 212.5,295.6 216.2,292.5 220.0,290.0 223.8,285.6 225.6,284.4 228.8,286.2 231.2,288.8 233.0,293.8 235.0,298.8 236.2,302.5 238.8,303.8 241.2,306.2 243.8,306.2 246.2,303.8 248.8,301.2 251.2,300.0 253.0,299.0 256.2,302.5 258.8,307.5 261.2,311.2 263.8,315.0 267.5,314.4 271.2,315.6 275.0,317.5 278.8,313.8 282.5,311.2 285.0,307.5 288.0,304.4 290.6,306.9 292.5,309.4 295.0,310.0 298.8,311.2 302.5,308.8 306.2,310.6 310.0,311.2 312.5,303.8 315.0,300.6 317.5,304.4 321.2,301.9 325.0,299.4 328.8,297.5 332.5,295.6 335.0,299.4 338.8,298.8 342.5,295.0 344.4,294.4 348.8,299.4 352.5,293.8 356.2,290.0 360.0,293.8 365.0,288.8 370.0,293.0 375.0,297.5 378.8,294.4 380.6,288.8 382.5,285.0 385.6,282.2 390.0,284.4 393.8,285.0 397.5,283.1 400.6,281.9 401.9,278.0 405.0,276.2 407.5,275.0 411.2,270.6 417.5,270.0 422.5,266.2 428.8,262.5 435.0,260.6 441.2,258.0 447.5,257.5 452.5,255.6 455.0,255.5 455.0,258.0 452.5,258.0 447.5,259.4 441.2,260.0 435.0,262.5 428.8,265.0 422.5,269.4 417.5,273.8 411.2,273.8 410.0,276.9 406.2,278.8 403.8,281.9 400.6,287.5 396.2,289.0 392.5,289.7 386.2,288.0 382.5,289.4 381.9,297.5 380.0,299.4 376.9,302.5 373.0,303.8 367.5,297.5 362.5,297.5 357.5,298.8 356.0,300.0 353.0,310.0 350.0,311.0 345.0,308.0 340.0,307.5 335.0,307.5 331.2,310.0 328.8,306.2 325.0,307.5 320.0,310.0 315.0,314.4 312.5,318.8 308.8,319.4 305.0,318.8 301.2,321.2 297.5,321.2 295.0,320.0 293.8,324.0 287.5,325.0 280.0,326.0 275.0,329.0 268.8,330.0 262.5,326.5 258.8,324.0 257.0,317.5 255.0,311.2 252.5,309.0 250.0,310.0 247.5,313.8 245.0,317.5 241.2,318.0 238.8,316.2 236.2,313.8 234.4,311.2 233.1,303.8 231.2,300.0 228.8,295.0 226.2,290.0 223.8,293.8 220.0,296.9 216.2,299.4 212.5,301.9 208.8,305.0 203.8,308.8 200.0,309.4 196.2,311.2 192.5,313.0 190.0,316.9 186.2,317.5 182.5,316.9 178.8,316.2 175.0,315.0 171.2,312.5 167.5,310.6 166.0,311.0 162.9,307.8 159.8,304.7 157.7,300.5 154.6,296.4 151.5,293.2 149.4,289.0 147.3,282.8 145.2,278.7 145.2,272.4 141.2,270.0 138.8,271.2 135.0,270.6 132.8,269.0 130.0,266.2 124.4,263.4 118.8,260.6 114.0,258.8 111.2,256.9 107.5,254.0 104.7,252.2 103.0,252.0 90.8,251.0 89.5,252.5 85.8,251.9 83.2,247.0 78.2,249.4 77.0,250.0 77.0,283.0 72.0,283.0" fill="#0000ff"/>
<path d="M81.5 197V230M86.5 218V230M101.5 165V200" stroke="#000" fill="none" shape-rendering="crispEdges"/>
<g fill="#0000ff">
<rect x="99" y="165" width="4" height="7"/><rect x="100" y="176" width="3" height="4"/><rect x="99" y="181" width="4" height="2"/><rect x="99" y="196" width="4" height="6"/>
<rect x="79" y="197" width="4" height="8"/><rect x="79" y="207" width="4" height="3"/><rect x="79" y="213" width="4" height="3"/><rect x="79" y="223" width="4" height="10"/>
<rect x="84" y="218" width="4" height="6"/><rect x="84" y="226" width="4" height="8"/><rect x="85" y="218" width="2" height="12"/>
<polygon points="91,183 93,181 95,183 95,186 97,186 98,189 98,191 97,192 97,197 89.5,197 89.5,192 90.5,190 90.5,186"/>
<rect x="96" y="190" width="3" height="5"/>
</g>
<g fill="#ff0000">
<rect x="73" y="201" width="2" height="23"/>
<rect x="99" y="181" width="4" height="7"/><rect x="99" y="192" width="4" height="5"/><rect x="95" y="193" width="4" height="6"/>
</g>
<path d="M71 202h3v1h-3zM71 205h3v1h-3zM70 203h1v2h-1zM72 203h1v2h-1zM74 203h1v2h-1z" fill="#ff0000" shape-rendering="crispEdges"/>
<path d="M71 207h3v1h-3zM71 210h3v1h-3zM70 208h1v2h-1zM72 208h1v2h-1zM74 208h1v2h-1z" fill="#ff0000" shape-rendering="crispEdges"/>
<path d="M71 212h3v1h-3zM71 215h3v1h-3zM70 213h1v2h-1zM72 213h1v2h-1zM74 213h1v2h-1z" fill="#ff0000" shape-rendering="crispEdges"/>
<path d="M71 217h3v1h-3zM71 220h3v1h-3zM70 218h1v2h-1zM72 218h1v2h-1zM74 218h1v2h-1z" fill="#ff0000" shape-rendering="crispEdges"/>
<path d="M71 221h3v1h-3zM71 224h3v1h-3zM70 222h1v2h-1zM72 222h1v2h-1zM74 222h1v2h-1z" fill="#ff0000" shape-rendering="crispEdges"/>
<path d="M99 182h3v1h-3zM99 185h3v1h-3zM98 183h1v2h-1zM100 183h1v2h-1zM102 183h1v2h-1z" fill="#ff0000" shape-rendering="crispEdges"/>
<path d="M99 192h3v1h-3zM99 195h3v1h-3zM98 193h1v2h-1zM100 193h1v2h-1zM102 193h1v2h-1z" fill="#ff0000" shape-rendering="crispEdges"/>
<path d="M103 216h3v1h-3zM103 219h3v1h-3zM102 217h1v2h-1zM104 217h1v2h-1zM106 217h1v2h-1z" fill="#ff0000" shape-rendering="crispEdges"/>
<path d="M103 222h3v1h-3zM103 225h3v1h-3zM102 223h1v2h-1zM104 223h1v2h-1zM106 223h1v2h-1z" fill="#ff0000" shape-rendering="crispEdges"/>
<path d="M103 228h3v1h-3zM103 231h3v1h-3zM102 229h1v2h-1zM104 229h1v2h-1zM106 229h1v2h-1z" fill="#ff0000" shape-rendering="crispEdges"/>
<path d="M95 194h3v1h-3zM95 197h3v1h-3zM94 195h1v2h-1zM96 195h1v2h-1zM98 195h1v2h-1z" fill="#ff0000" shape-rendering="crispEdges"/>
<path d="M361 292.5L365.6 287.8L371.9 294.8L375 297.3L376.9 295.8L380 293.5L380.6 291M346.5 297L350.6 300.6M401 281L403.75 276.5L408 273L413.75 269" stroke="#000" fill="none" stroke-width="1"/>
<path d="M96.5 182V197M90.5 206v3m0 2v4m0 3v5m1 2v4m0 2v6M92.5 214v3m0 4v4m0 3v5M91.5 224v11M93.5 226v2m0 3v2" stroke="#000" fill="none" shape-rendering="crispEdges"/>
</g>
<polyline points="72.0,362.2 94.1,359.3 94.1,359.3 129.6,359.3 129.6,359.3 158.5,364.9 158.5,364.9 176.7,352.6 176.7,352.5 204.2,318.8 204.2,318.8 228.4,301.8 228.4,301.8 234.7,301.8 234.7,301.8 242.3,319.6 242.3,319.6 263.5,352.7 263.5,352.7 271.1,358.3 271.1,358.3 282.0,349.0 282.0,349.0 296.1,383.5 296.1,383.5 311.3,400.4 311.3,400.3 326.0,405.9 326.0,406.0 344.4,406.0 344.4,406.0 359.7,400.3 359.7,400.3 377.2,400.3 377.2,400.3 408.6,405.9 408.6,405.9 433.8,398.9 433.8,399.0 455.0,385.7" stroke="#000" fill="none" stroke-width="1"/>
<polyline points="72.0,190.6 104.8,203.8 104.8,203.8 120.4,233.2 120.4,233.2 158.5,254.5 158.5,254.5 223.3,205.1 223.3,205.1 231.2,201.8 231.2,201.8 244.3,211.9 244.3,211.9 253.7,239.9 253.7,239.9 281.5,254.5 281.5,254.5 292.3,296.0 292.3,296.0 411.9,268.0 411.9,268.0 455.0,236.0" stroke="#000" fill="none" stroke-width="1"/>
<g fill="none" stroke="#f00" stroke-width="1"><rect x="77.5" y="80.0" width="9" height="9" rx="3"/><path d="M82 80.0v4"/><rect x="77.5" y="89.3" width="9" height="9" rx="3"/><path d="M82 89.3v4"/></g><path d="M72 102.5h15M72 111.5h15M72 138.5h15M72 147.5h15" stroke="#000" shape-rendering="crispEdges"/><g fill="none" stroke="#00f" stroke-width="1"><path d="M82 116.5L87 122.5H77.5Z M82 116.5v5"/><path d="M82 125.5L87 131.5H77.5Z M82 125.5v5"/></g>
<g font-family="Liberation Mono, monospace" font-size="12" fill="#000">
<text x="93.95" y="90.00" textLength="57.6" lengthAdjust="spacing" xml:space="preserve">Noise BH</text>
<text x="93.95" y="98.90" textLength="57.6" lengthAdjust="spacing" xml:space="preserve">Noise LH</text>
<text x="93.95" y="107.80" textLength="164.0" lengthAdjust="spacing" xml:space="preserve">SLM.E. STS2 BH  2004.177</text>
<text x="93.95" y="116.70" textLength="36.0" lengthAdjust="spacing" xml:space="preserve">Noise</text>
<text x="93.95" y="125.60" textLength="79.2" lengthAdjust="spacing" xml:space="preserve">Gnd Noise 2</text>
<text x="93.95" y="134.50" textLength="79.2" lengthAdjust="spacing" xml:space="preserve">Gnd Noise L</text>
<text x="93.95" y="143.40" textLength="108.0" lengthAdjust="spacing" xml:space="preserve">LOW NOISE MODEL</text>
<text x="93.95" y="152.30" textLength="115.2" lengthAdjust="spacing" xml:space="preserve">HIGH NOISE MODEL</text>
</g>
<g font-family="Liberation Mono, monospace" fill="#000">
<text x="63.7" y="458" font-size="20">10</text>
<text x="91.24" y="446.7" font-size="14"><tspan font-size="11.5">−</tspan><tspan dx="2.8">1</tspan></text>
<text x="159.4" y="458" font-size="20">10</text>
<text x="185.8" y="446.7" font-size="14">0</text>
<text x="255.2" y="458" font-size="20">10</text>
<text x="281.5" y="446.7" font-size="14">1</text>
<text x="350.9" y="458" font-size="20">10</text>
<text x="377.2" y="446.7" font-size="14">2</text>
<text x="446.7" y="458" font-size="20">10</text>
<text x="473.0" y="446.7" font-size="14">3</text>
</g>
<text x="182.3" y="478" font-family="Liberation Mono, monospace" font-size="18" textLength="162" lengthAdjust="spacing" xml:space="preserve">Period (sec)</text>
<text transform="translate(57 393) rotate(-90)" font-family="Liberation Mono, monospace" font-size="12.5" textLength="275" lengthAdjust="spacingAndGlyphs">Power Spectral Density (10*LOG M**2/S**4/Hz)</text>
<text transform="translate(62.3 107) rotate(-90)" font-family="Liberation Mono, monospace" font-size="17">*</text>
<text transform="translate(56 98.2) rotate(-90)" font-family="Liberation Mono, monospace" font-size="12" textLength="11.8" lengthAdjust="spacingAndGlyphs">10</text>
<text transform="translate(50.75 86.2) rotate(-90)" font-family="Liberation Mono, monospace" font-size="7">0</text>
<g font-family="Liberation Mono, monospace" font-size="9" font-weight="bold" fill="#000">
<text transform="translate(68 103.0) rotate(-90)" textLength="25.8" lengthAdjust="spacingAndGlyphs">-40.00</text>
<text transform="translate(68 121.8) rotate(-90)" textLength="25.8" lengthAdjust="spacingAndGlyphs">-60.00</text>
<text transform="translate(68 168.8) rotate(-90)" textLength="25.8" lengthAdjust="spacingAndGlyphs">-80.00</text>
<text transform="translate(68 214.0) rotate(-90)" textLength="30.7" lengthAdjust="spacingAndGlyphs">-100.00</text>
<text transform="translate(68 258.5) rotate(-90)" textLength="30.7" lengthAdjust="spacingAndGlyphs">-120.00</text>
<text transform="translate(68 303.5) rotate(-90)" textLength="30.7" lengthAdjust="spacingAndGlyphs">-140.00</text>
<text transform="translate(68 349.0) rotate(-90)" textLength="30.7" lengthAdjust="spacingAndGlyphs">-160.00</text>
<text transform="translate(68 393.0) rotate(-90)" textLength="30.7" lengthAdjust="spacingAndGlyphs">-180.00</text>
<text transform="translate(68 433.8) rotate(-90)" textLength="30.7" lengthAdjust="spacingAndGlyphs">-200.00</text>
</g>
</svg></body></html>
